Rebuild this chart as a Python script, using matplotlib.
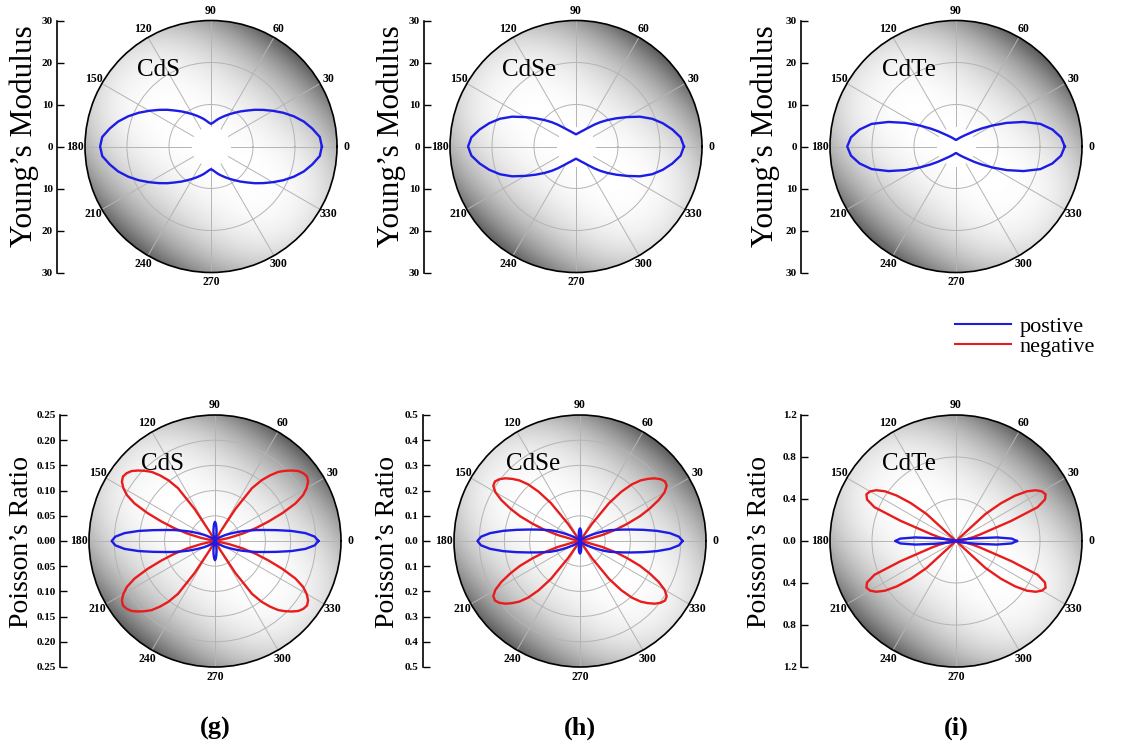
import numpy as np
import matplotlib
matplotlib.use("Agg")
import matplotlib.pyplot as plt
from matplotlib.lines import Line2D
from matplotlib.patches import Circle

plt.rcParams['font.family'] = ['Liberation Serif', 'DejaVu Serif']

W, H = 1121, 751
fig = plt.figure(figsize=(W / 100, H / 100), dpi=100)

materials = ['CdS', 'CdSe', 'CdTe']
panel_tags = ['(g)', '(h)', '(i)']
theta_labels = [str(a) for a in range(0, 360, 30)]
legend_labels = ['postive', 'negative']

# Young's modulus, first quadrant (the other quadrants are mirror images)
young_angles = [0, 5, 10, 15, 20, 25, 30, 35, 40, 45, 50, 55, 60, 65, 70, 75, 80, 85, 90]
young_cds = [26.4, 26.0, 24.5, 22.9, 21.0, 19.0, 17.0, 15.2, 13.6, 12.1,
             10.9, 9.8, 8.9, 8.1, 7.4, 6.8, 6.2, 5.7, 5.4]
young_cdse = [25.7, 25.0, 23.3, 21.4, 19.3, 16.8, 14.0, 11.7, 9.8, 8.2,
              6.8, 5.65, 4.85, 4.25, 3.85, 3.5, 3.25, 3.05, 2.9]
young_cdte = [25.9, 25.1, 23.3, 20.8, 17.1, 13.3, 10.0, 7.5, 5.7, 4.4,
              3.6, 3.05, 2.65, 2.35, 2.1, 1.9, 1.75, 1.62, 1.55]
young_tick_labels = ['30', '20', '10', '0', '10', '20', '30']

# Poisson's ratio, first quadrant, 2.5 degree steps
poisson_angles = [0, 2.5, 5, 7.5, 10, 12.5, 15, 17.5, 20, 22.5, 25, 27.5, 30, 32.5,
                  35, 37.5, 40, 42.5, 45, 47.5, 50, 52.5, 55, 57.5, 60, 62.5, 65,
                  67.5, 70, 72.5, 75, 77.5, 80, 82.5, 85, 87.5, 90]
pos_cds = [0.205, 0.198, 0.180, 0.153, 0.124, 0.101, 0.084, 0.068, 0.056, 0.045,
           0.036, 0.029, 0.024, 0.019, 0.015, 0.012, 0.009, 0.007, 0.005, 0.004,
           0.003, 0.002, 0.001, 0.001, 0.0, 0.0, 0.001, 0.002, 0.004, 0.006,
           0.009, 0.013, 0.018, 0.023, 0.029, 0.035, 0.038]
neg_cds = [0, 0, 0, 0, 0, 0.028, 0.057, 0.085, 0.113, 0.145, 0.176, 0.197, 0.210,
           0.219, 0.223, 0.221, 0.216, 0.207, 0.197, 0.186, 0.170, 0.152, 0.128,
           0.075, 0.020, 0, 0, 0, 0, 0, 0, 0, 0, 0, 0, 0, 0]
pos_cdse = [0.407, 0.393, 0.358, 0.308, 0.255, 0.210, 0.175, 0.147, 0.125, 0.100,
            0.075, 0.056, 0.042, 0.032, 0.024, 0.018, 0.013, 0.010, 0.007, 0.005,
            0.003, 0.002, 0.001, 0.0, 0.0, 0.001, 0.002, 0.004, 0.007, 0.010,
            0.015, 0.021, 0.028, 0.035, 0.042, 0.047, 0.050]
neg_cdse = [0, 0, 0, 0, 0, 0.03, 0.09, 0.148, 0.20, 0.258, 0.306, 0.352, 0.388,
            0.408, 0.412, 0.403, 0.387, 0.365, 0.340, 0.305, 0.255, 0.190, 0.085,
            0, 0, 0, 0, 0, 0, 0, 0, 0, 0, 0, 0, 0, 0]
pos_cdte = [0.58, 0.53, 0.39, 0.20, 0.11, 0.07, 0.048, 0.033, 0.022, 0.015, 0.010,
            0.006, 0.004, 0.002, 0.001, 0, 0, 0, 0, 0, 0, 0, 0, 0, 0, 0, 0, 0, 0,
            0, 0, 0, 0, 0, 0, 0, 0]
neg_cdte = [0, 0, 0, 0.04, 0.10, 0.165, 0.235, 0.33, 0.56, 0.84, 0.935, 0.962,
            0.945, 0.90, 0.825, 0.71, 0.56, 0.38, 0, 0, 0, 0, 0, 0, 0, 0, 0, 0,
            0, 0, 0, 0, 0, 0, 0, 0, 0]
poisson_tick_labels = [
    ['0.25', '0.20', '0.15', '0.10', '0.05', '0.00', '0.05', '0.10', '0.15', '0.20', '0.25'],
    ['0.5', '0.4', '0.3', '0.2', '0.1', '0.0', '0.1', '0.2', '0.3', '0.4', '0.5'],
    ['1.2', '0.8', '0.4', '0.0', '0.4', '0.8', '1.2'],
]

BLUE = '#1c1ce6'
RED = '#e81c1c'
GRID = '#b4b4b4'
R_PX = 126


def full_circle(angles, values):
    a = np.asarray(angles, dtype=float)
    v = np.asarray(values, dtype=float)
    th = np.concatenate([a, 180 - a[::-1], 180 + a, 360 - a[::-1]])
    r = np.concatenate([v, v[::-1], v, v[::-1]])
    return np.deg2rad(th), r


def shaded_background(rect):
    bg = fig.add_axes(rect, zorder=0)
    n = 500
    x = np.linspace(-1, 1, n)
    X, Y = np.meshgrid(x, x)
    p = X * np.cos(np.deg2rad(50)) + Y * np.sin(np.deg2rad(50))
    rr = np.hypot(X, Y)
    g = 1 - 0.52 * np.abs(p) ** 2.4 - 0.12 * rr ** 5
    im = bg.imshow(np.clip(g, 0, 1), cmap='gray', vmin=0, vmax=1,
                   extent=[-1, 1, -1, 1], origin='lower', interpolation='bilinear')
    im.set_clip_path(Circle((0, 0), 1, transform=bg.transData))
    bg.set_xlim(-1, 1)
    bg.set_ylim(-1, 1)
    bg.axis('off')


def panel(cx, cy, spine_x, rmax, rings, tick_labels, name, ylabel, ylabel_x,
          ylabel_y, ylabel_size, spoke_start, series):
    rect = [(cx - R_PX) / W, 1 - (cy + R_PX) / H, 2 * R_PX / W, 2 * R_PX / H]
    shaded_background(rect)
    ax = fig.add_axes(rect, projection='polar', zorder=1)
    ax.set_facecolor('none')
    ax.set_theta_zero_location('E')
    ax.set_ylim(0, rmax)
    ax.set_yticks(rings)
    ax.set_yticklabels([])
    ax.yaxis.grid(True, color=GRID, lw=0.7)
    ax.xaxis.grid(False)
    ax.set_xticks(np.deg2rad(np.arange(0, 360, 30)))
    ax.set_xticklabels(theta_labels, fontsize=8.5, fontweight='bold')
    ax.tick_params(axis='x', direction='inout', length=6, width=0.9, pad=-3)
    ax.spines['polar'].set_linewidth(1.2)
    ax.spines['polar'].set_color('black')
    for a in range(0, 360, 30):
        ax.plot([np.deg2rad(a)] * 2, [spoke_start * rmax, rmax], color=GRID,
                lw=0.7, zorder=2)
    for angles, vals, col in series:
        th, r = full_circle(angles, vals)
        ax.plot(th, r, color=col, lw=1.7, zorder=4, solid_joinstyle='round')
    ax.text(0.205, 0.805, name, transform=ax.transAxes, fontsize=18,
            ha='left', va='center', zorder=6)

    # linear radial scale on the left
    sax = fig.add_axes([spine_x / W, rect[1], 0.0005, rect[3]], zorder=1)
    sax.set_ylim(-rmax, rmax)
    sax.set_xlim(0, 1)
    for s in ['top', 'right', 'bottom']:
        sax.spines[s].set_visible(False)
    sax.spines['left'].set_linewidth(1.2)
    sax.set_xticks([])
    sax.set_yticks(np.linspace(rmax, -rmax, len(tick_labels)))
    sax.set_yticklabels(tick_labels, fontsize=8, fontweight='bold')
    sax.tick_params(axis='y', direction='in', length=5, width=1.0, pad=3)
    sax.patch.set_alpha(0)

    fig.text(ylabel_x / W, 1 - ylabel_y / H, ylabel, rotation=90, ha='center',
             va='center', fontsize=ylabel_size)


young_data = [young_cds, young_cdse, young_cdte]
pos_data = [pos_cds, pos_cdse, pos_cdte]
neg_data = [neg_cds, neg_cdse, neg_cdte]

top_cx = [211, 576, 956]
top_spine = [57, 424, 801]
top_ylab = [24, 391, 765]
for i in range(3):
    panel(top_cx[i], 146.5, top_spine[i], 30, [10, 20], young_tick_labels,
          materials[i], 'Young\u2019s Modulus', top_ylab[i], 136, 22.5, 0.16,
          [(young_angles, young_data[i], BLUE)])

bot_cx = [215, 580, 956]
bot_spine = [60, 423, 801]
bot_ylab = [22, 388, 760]
bot_rmax = [0.25, 0.5, 1.2]
bot_rings = [[0.05, 0.10, 0.15, 0.20], [0.1, 0.2, 0.3, 0.4], [0.4, 0.8]]
for i in range(3):
    panel(bot_cx[i], 541, bot_spine[i], bot_rmax[i], bot_rings[i],
          poisson_tick_labels[i], materials[i], 'Poisson\u2019s Ratio',
          bot_ylab[i], 542, 20, 0.03,
          [(poisson_angles, neg_data[i], RED), (poisson_angles, pos_data[i], BLUE)])
    fig.text(bot_cx[i] / W, 1 - 728 / H, panel_tags[i], ha='center', va='center',
             fontsize=19, fontweight='bold')

handles = [Line2D([], [], color=BLUE, lw=1.5), Line2D([], [], color=RED, lw=1.5)]
fig.legend(handles, legend_labels, loc='upper left',
           bbox_to_anchor=(955 / W, 1 - 316 / H), frameon=False, fontsize=16,
           handlelength=2.5, handletextpad=0.4, labelspacing=0.0,
           borderaxespad=0, borderpad=0)

fig.savefig('out.png', dpi=100, facecolor='white')
